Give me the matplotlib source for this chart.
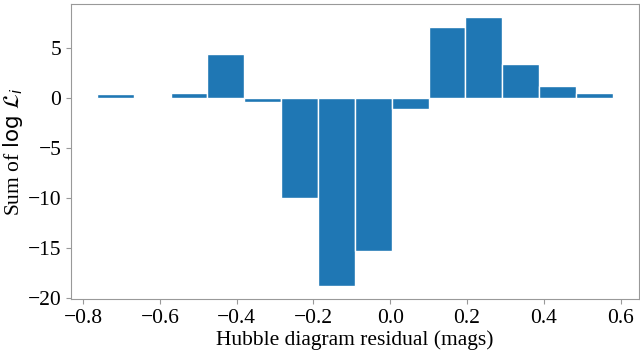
import numpy as np
import matplotlib.pyplot as plt

plt.rcParams['font.family'] = ['Liberation Serif', 'DejaVu Serif']
plt.rcParams['mathtext.fontset'] = 'dejavusans'

# Binned residuals and summed log-likelihood per bin
bin_centers = [-0.716, -0.620, -0.524, -0.428, -0.332, -0.236, -0.140,
               -0.044, 0.052, 0.148, 0.244, 0.340, 0.436, 0.532]
sum_log_like = [0.35, 0.0, 0.5, 4.4, -0.45, -10.0, -18.8,
                -15.3, -1.1, 7.1, 8.05, 3.35, 1.2, 0.5]
bin_width = 0.0961

fig = plt.figure(figsize=(6.4, 3.53), dpi=100)
ax = fig.add_axes([0.111, 0.153, 0.887, 0.836])
ax.bar(bin_centers, sum_log_like, width=bin_width, color='#1f77b4',
       edgecolor='white', linewidth=1.0)

ax.set_xticks([-0.8, -0.6, -0.4, -0.2, 0.0, 0.2, 0.4, 0.6])
ax.set_yticks([-20, -15, -10, -5, 0, 5])
ax.set_xlabel('Hubble diagram residual (mags)', fontsize=15.5, labelpad=2)
ax.set_ylabel(r'Sum of $\log\,\mathcal{L}_i$', fontsize=15.5, labelpad=2)
ax.tick_params(labelsize=15.5, color='#999999', length=3.5)
for s in ax.spines.values():
    s.set_color('#999999')

fig.savefig('out.png', dpi=100)
